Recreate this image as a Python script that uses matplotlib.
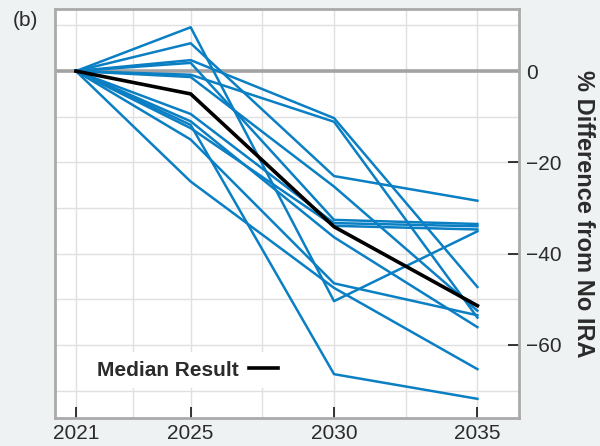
import matplotlib
matplotlib.use('Agg')
import matplotlib.pyplot as plt

plt.rcParams['font.family'] = ['Liberation Sans', 'DejaVu Sans']

years = [2021, 2025, 2030, 2035]

# model runs, % difference from No IRA
runs = [
    [0, 9.6, -50.4, -35.1],
    [0, 6.1, -23.0, -28.4],
    [0, 2.4, -10.3, -47.3],
    [0, 1.8, -32.6, -33.5],
    [0, -0.8, -11.1, -54.0],
    [0, -1.3, -25.3, -52.5],
    [0, -9.4, -33.3, -34.0],
    [0, -11.0, -36.4, -56.1],
    [0, -11.8, -66.4, -71.8],
    [0, -12.5, -33.9, -34.7],
    [0, -15.0, -46.5, -53.5],
    [0, -24.2, -47.5, -65.3],
]
median = [0, -5.0, -34.1, -51.4]

x_ticks = [2021, 2025, 2030, 2035]
x_grid = [2021, 2023, 2025, 2027.5, 2030, 2032.5, 2035]
y_ticks = [0, -20, -40, -60]
y_grid = [10, 0, -10, -20, -30, -40, -50, -60, -70]

bg = '#eef2f3'
blue = '#0a7fc4'
txt = '#2b2b2b'

fig = plt.figure(figsize=(6, 4.46), dpi=100, facecolor=bg)
ax = fig.add_axes([0.0917, 0.0628, 0.7733, 0.917])
ax.set_facecolor('white')

ax.axhline(0, color='#a3a3a3', lw=2.6, zorder=2)
for r in runs:
    ax.plot(years, r, color=blue, lw=1.8, zorder=3)
med_line, = ax.plot(years, median, color='black', lw=2.6, zorder=4)

ax.set_xlim(2020.27, 2036.45)
ax.set_ylim(-76.0, 13.6)

ax.set_xticks(x_ticks)
ax.set_xticks(x_grid, minor=True)
ax.set_yticks(y_ticks)
ax.set_yticks(y_grid, minor=True)
ax.yaxis.tick_right()
ax.yaxis.set_label_position('right')
ax.grid(which='both', color='#e0e0e0', lw=1.0, zorder=0)
ax.set_axisbelow(True)

ax.tick_params(which='major', direction='in', length=8, width=1.1, color='black',
               labelsize=15, labelcolor=txt, pad=5)
ax.tick_params(which='minor', length=0)
ax.tick_params(axis='x', pad=4)

for s in ax.spines.values():
    s.set_color('#aaaaaa')
    s.set_linewidth(2)

ax.set_ylabel('% Difference from No IRA', rotation=270, fontsize=17,
              fontweight='bold', color=txt, labelpad=24)

leg = ax.legend([med_line], ['Median Result'], loc='lower left',
                bbox_to_anchor=(0.05, 0.048), markerfirst=False,
                handlelength=1.4, handletextpad=0.5, borderpad=0.4,
                frameon=True, fancybox=False, framealpha=1,
                facecolor='white', edgecolor='none',
                prop={'weight': 'bold', 'size': 15})
for t in leg.get_texts():
    t.set_color(txt)

fig.text(0.042, 0.955, '(b)', fontsize=15, color=txt, ha='center', va='center')

fig.savefig('out.png', dpi=100, facecolor=bg)
